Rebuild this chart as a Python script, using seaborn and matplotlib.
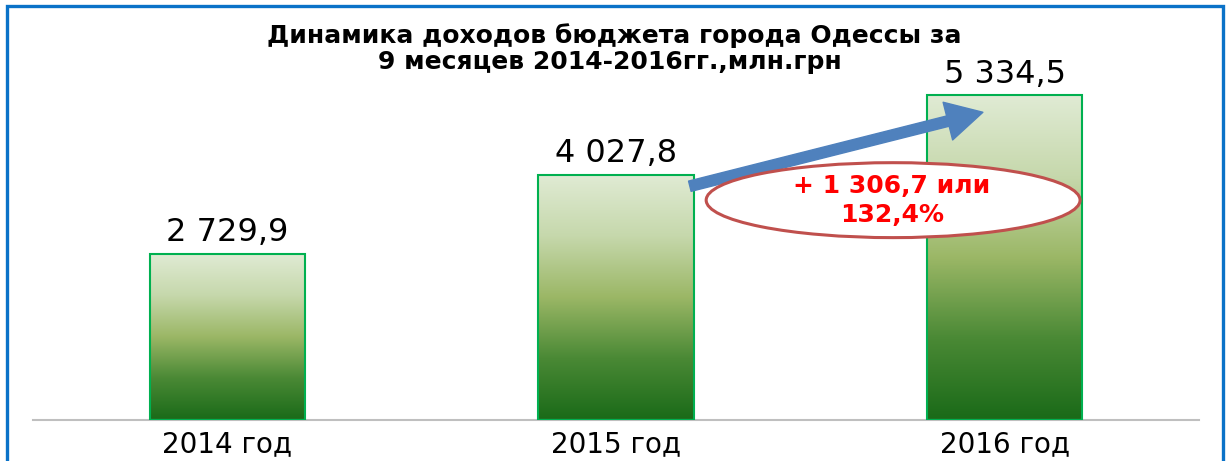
import numpy as np
import pandas as pd
import matplotlib.pyplot as plt
import seaborn as sns
from matplotlib.colors import LinearSegmentedColormap
from matplotlib.patches import Ellipse, Rectangle

# данные
years = ['2014 год', '2015 год', '2016 год']
income = [2729.9, 4027.8, 5334.5]
title_1 = 'Динамика доходов бюджета города Одессы за'
title_2 = '9 месяцев 2014-2016гг.,млн.грн'


def fmt(v):
    s = f'{v:,.1f}'
    return s.replace(',', ' ').replace('.', ',')


diff = income[2] - income[1]
pct = income[2] / income[1] * 100
note_1 = f'+ {fmt(diff)} или'
note_2 = f'{pct:.1f}%'.replace('.', ',')

sns.set_style('white')
plt.rcParams['font.family'] = ['DejaVu Sans']
plt.rcParams['text.color'] = 'black'
plt.rcParams['xtick.color'] = 'black'

fig = plt.figure(figsize=(12.26, 4.61), dpi=100)
ax = fig.add_axes([33 / 1226, 41 / 461, 1166 / 1226, 400 / 461])

df = pd.DataFrame({'year': years, 'income': income})
sns.barplot(data=df, x='year', y='income', color='#9bbb59', width=0.40,
            edgecolor='#00b050', linewidth=1.5, ax=ax, zorder=3)

# градиент в столбиках
cmap = LinearSegmentedColormap.from_list(
    'grn', ['#1a6a18', '#4a8935', '#9bb766', '#c6d8ac', '#e0ebd4'])
grad = np.linspace(0, 1, 256).reshape(-1, 1)
for bar in ax.patches:
    x0, y0 = bar.get_x(), bar.get_y()
    w, h = bar.get_width(), bar.get_height()
    bar.set_facecolor('none')
    im = ax.imshow(grad, extent=[x0, x0 + w, y0, y0 + h], origin='lower',
                   aspect='auto', cmap=cmap, zorder=2)
    im.set_clip_path(bar)

ax.set_xlim(-0.5, 2.5)
ax.set_ylim(0, 6570)

for i, v in enumerate(income):
    ax.annotate(fmt(v), (i, v), xytext=(0, 9), textcoords='offset points',
                ha='center', va='baseline', fontsize=23, color='black')

# стрелка роста
ax.annotate('', xy=(2 - 0.056, income[2] - 280), xytext=(1 + 0.19, income[1] - 188),
            arrowprops=dict(arrowstyle='simple,head_length=1.3,head_width=1.4,tail_width=0.38',
                            mutation_scale=20, color='#4f81bd', shrinkA=0, shrinkB=0),
            zorder=5)

ell = Ellipse((1.713, 3611), 0.962, 1231, facecolor='white', edgecolor='#c0504d',
              linewidth=2.2, zorder=6)
ax.add_patch(ell)
ax.text(1.708, 3726, note_1, ha='center', va='baseline', fontsize=18, fontweight='bold',
        color='#ff0000', zorder=7)
ax.text(1.71, 3250, note_2, ha='center', va='baseline', fontsize=18, fontweight='bold',
        color='#ff0000', zorder=7)

ax.set_xlabel('')
ax.set_ylabel('')
ax.set_yticks([])
ax.tick_params(axis='x', length=0, pad=7, labelsize=20, labelcolor='black')
for s in ['left', 'right', 'top']:
    ax.spines[s].set_visible(False)
ax.spines['bottom'].set_color('#bfbfbf')
ax.spines['bottom'].set_linewidth(1.5)

fig.text(614 / 1226, 1 - 43 / 461, title_1, ha='center', va='baseline',
         fontsize=18, fontweight='bold', color='black')
fig.text(610 / 1226, 1 - 69 / 461, title_2, ha='center', va='baseline',
         fontsize=18, fontweight='bold', color='black')

# рамка
fig.patches.append(Rectangle((7 / 1226, -0.05), 1216 / 1226, 1.05 - 6 / 461,
                             transform=fig.transFigure, fill=False,
                             edgecolor='#0a72c8', linewidth=2.4))

fig.savefig('out.png', dpi=100)
